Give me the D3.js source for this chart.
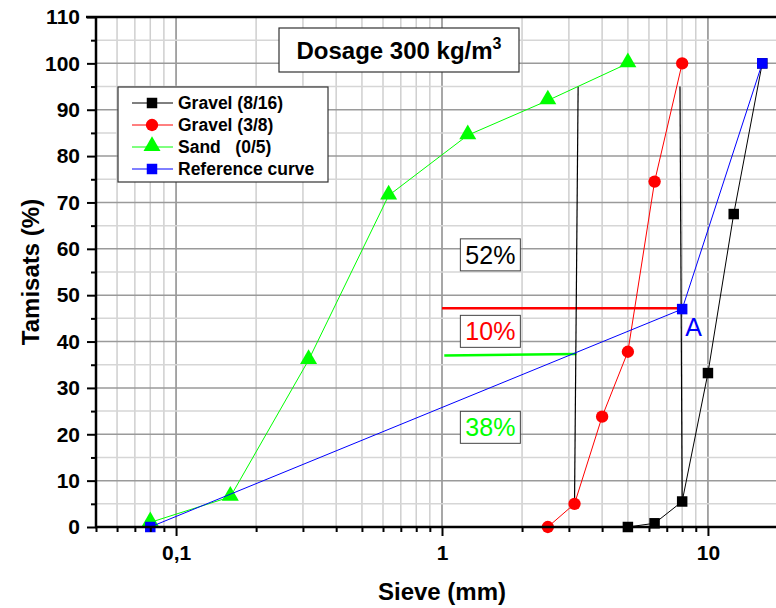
<!DOCTYPE html>
<html lang="en">
<head>
    <meta charset="UTF-8">
    <title>Dosage 300 kg/m3</title>
    <script src="https://d3js.org/d3.v7.min.js"></script>
    <style>
        body { margin: 0; background: #fff; }
        svg text { font-family: "Liberation Sans", Arial, sans-serif; }
    </style>
</head>
<body>
    <div id="chart"></div>

    <script>
        // sieve sizes (mm) and passing (%)
        const gravel816X = [5, 6.3, 8, 10, 12.5, 16];
        const gravel816Y = [0, 0.8, 5.5, 33.2, 67.5, 100];
        const gravel38X = [2.5, 3.15, 4, 5, 6.3, 8];
        const gravel38Y = [0, 5, 23.8, 37.8, 74.5, 100];
        const sandX = [0.08, 0.16, 0.315, 0.63, 1.25, 2.5, 5];
        const sandY = [1, 6.5, 36, 71.5, 84.5, 92, 100];
        const refX = [0.08, 8, 16];
        const refY = [0, 47, 100];

        const seriesNames = ["Gravel (8/16)", "Gravel (3/8)", "Sand   (0/5)", "Reference curve"];
        const seriesColors = ["#000000", "#ff0000", "#00ff00", "#0000ff"];
        const seriesSymbols = ["square", "circle", "triangle", "square"];

        const yTicks = [0, 10, 20, 30, 40, 50, 60, 70, 80, 90, 100, 110];
        const xTicks = [0.1, 1, 10];
        const xTickLabels = ["0,1", "1", "10"];

        // separation lines and the percentage labels
        const sep1 = [[3.25, 95], [3.15, 5]];
        const sep2 = [[7.85, 95], [8, 5.5]];
        const redLevel = [[1, 47.2], [8, 47.2]];
        const greenLevel = [[1.02, 37], [3.2, 37.3]];
        const pctLabels = [
            { text: "52%", x: 1.52, y: 58.7, color: "#000000" },
            { text: "10%", x: 1.52, y: 42.2, color: "#ff0000" },
            { text: "38%", x: 1.52, y: 21.5, color: "#00ff00" }
        ];

        const width = 776, height = 608;
        const svg = d3.select("#chart").append("svg")
            .attr("width", width)
            .attr("height", height);

        const x = d3.scaleLog().domain([0.05, 20]).range([96, 788]);
        const y = d3.scaleLinear().domain([0, 110]).range([527, 17]);

        // grid
        const minorX = [];
        [0.01, 0.1, 1, 10].forEach(dec => {
            for (let k = 1; k <= 9; k++) {
                const v = +(dec * k).toPrecision(3);
                if (v >= 0.05 && v <= 20) minorX.push(v);
            }
        });
        minorX.push(20);
        const gridY = d3.range(0, 111, 5);

        const grid = svg.append("g");
        grid.selectAll(".gx").data(minorX).enter().append("line")
            .attr("x1", d => x(d)).attr("x2", d => x(d))
            .attr("y1", y(0)).attr("y2", y(110))
            .attr("stroke", d => xTicks.includes(d) ? "#8a8a8a" : "#cfcfcf")
            .attr("stroke-width", 1.5);
        grid.selectAll(".gy").data(gridY).enter().append("line")
            .attr("x1", x(0.05)).attr("x2", width)
            .attr("y1", d => y(d)).attr("y2", d => y(d))
            .attr("stroke", d => d % 10 === 0 ? "#9a9a9a" : "#d6d6d6")
            .attr("stroke-width", 1.5);

        const line = d3.line().x(d => x(d[0])).y(d => y(d[1]));

        // annotation lines
        svg.append("path").attr("d", line(redLevel))
            .attr("fill", "none").attr("stroke", "#ff0000").attr("stroke-width", 2.5);
        svg.append("path").attr("d", line(greenLevel))
            .attr("fill", "none").attr("stroke", "#00ff00").attr("stroke-width", 2.5);
        [sep1, sep2].forEach(s => {
            svg.append("path").attr("d", line(s))
                .attr("fill", "none").attr("stroke", "#000").attr("stroke-width", 1.2);
        });

        // percentage boxes
        const pg = svg.append("g").selectAll("g").data(pctLabels).enter().append("g")
            .attr("transform", d => `translate(${x(d.x)},${y(d.y)})`);
        pg.append("rect")
            .attr("x", -30).attr("y", -16).attr("width", 60).attr("height", 32)
            .attr("fill", "#fff").attr("stroke", "#444").attr("stroke-width", 1);
        pg.append("text")
            .attr("text-anchor", "middle").attr("y", 9)
            .attr("font-size", "25px")
            .attr("fill", d => d.color)
            .text(d => d.text);

        // series
        const symbolType = { square: d3.symbolSquare, circle: d3.symbolCircle, triangle: d3.symbolTriangle };
        const symbolSize = { square: 110, circle: 120, triangle: 125 };
        const series = [
            d3.zip(gravel816X, gravel816Y),
            d3.zip(gravel38X, gravel38Y),
            d3.zip(sandX, sandY),
            d3.zip(refX, refY)
        ];

        series.forEach((pts, i) => {
            const g = svg.append("g");
            g.append("path").attr("d", line(pts))
                .attr("fill", "none").attr("stroke", seriesColors[i]).attr("stroke-width", 1);
            g.selectAll("path.pt").data(pts).enter().append("path")
                .attr("class", "pt")
                .attr("d", d3.symbol().type(symbolType[seriesSymbols[i]]).size(symbolSize[seriesSymbols[i]]))
                .attr("transform", d => `translate(${x(d[0])},${y(d[1]) + (seriesSymbols[i] === "triangle" ? -1 : 0)})`)
                .attr("fill", seriesColors[i]);
        });

        // point A
        svg.append("text")
            .attr("x", x(refX[1]) + 3).attr("y", y(refY[1]) + 27)
            .attr("font-size", "25px").attr("fill", "#0000ff")
            .text("A");

        // axes
        svg.append("g")
            .attr("transform", `translate(${x(0.05)},0)`)
            .call(d3.axisLeft(y).tickValues(yTicks).tickSize(9).tickPadding(7));
        svg.append("g")
            .attr("transform", `translate(${x(0.05)},0)`)
            .call(d3.axisLeft(y).tickValues(d3.range(5, 110, 10)).tickSize(5).tickFormat(""));
        svg.append("g")
            .attr("transform", `translate(0,${y(0)})`)
            .call(d3.axisBottom(x).tickValues(xTicks).tickSize(9).tickPadding(9)
                .tickFormat((d, i) => xTickLabels[i]));
        svg.append("g")
            .attr("transform", `translate(0,${y(0)})`)
            .call(d3.axisBottom(x).tickValues(minorX.filter(v => !xTicks.includes(v))).tickSize(5).tickFormat(""));

        svg.selectAll(".domain").remove();
        svg.selectAll(".tick line").attr("stroke", "#000").attr("stroke-width", 2);
        svg.selectAll(".tick text")
            .attr("font-size", "21px").attr("font-weight", "bold").attr("fill", "#000")
            .style("font-family", "'Liberation Sans', Arial, sans-serif");

        // frame lines
        svg.append("line")
            .attr("x1", x(0.05)).attr("x2", x(0.05)).attr("y1", y(110) - 1).attr("y2", y(0) + 1)
            .attr("stroke", "#000").attr("stroke-width", 2.5);
        svg.append("line")
            .attr("x1", x(0.05) - 1).attr("x2", width).attr("y1", y(0)).attr("y2", y(0))
            .attr("stroke", "#000").attr("stroke-width", 2.5);
        svg.append("line")
            .attr("x1", x(0.05) - 10).attr("x2", width).attr("y1", y(110)).attr("y2", y(110))
            .attr("stroke", "#000").attr("stroke-width", 2.5);

        // title box
        const tg = svg.append("g").attr("transform", "translate(399,50)");
        tg.append("rect")
            .attr("x", -120).attr("y", -22).attr("width", 240).attr("height", 44)
            .attr("fill", "#fff").attr("stroke", "#333").attr("stroke-width", 1.2);
        const tt = tg.append("text")
            .attr("text-anchor", "middle").attr("y", 9)
            .attr("font-size", "24px").attr("font-weight", "bold");
        tt.append("tspan").text("Dosage 300 kg/m");
        tt.append("tspan").attr("dy", -10).attr("font-size", "16px").text("3");

        // legend
        const lg = svg.append("g").attr("transform", "translate(118,87)");
        lg.append("rect")
            .attr("width", 210).attr("height", 95)
            .attr("fill", "#fff").attr("stroke", "#333").attr("stroke-width", 1.2);
        const rows = lg.selectAll("g.row").data(seriesNames).enter().append("g")
            .attr("class", "row")
            .attr("transform", (d, i) => `translate(0,${16 + i * 22})`);
        rows.append("line")
            .attr("x1", 14).attr("x2", 55)
            .attr("stroke", (d, i) => seriesColors[i]).attr("stroke-width", 1);
        rows.append("path")
            .attr("d", (d, i) => d3.symbol().type(symbolType[seriesSymbols[i]]).size(symbolSize[seriesSymbols[i]])())
            .attr("transform", (d, i) => `translate(34,${seriesSymbols[i] === "triangle" ? -1 : 0})`)
            .attr("fill", (d, i) => seriesColors[i]);
        rows.append("text")
            .attr("x", 60).attr("dy", "0.36em")
            .attr("font-size", "17.5px").attr("font-weight", "bold")
            .attr("xml:space", "preserve")
            .style("white-space", "pre")
            .text(d => d);

        // axis titles
        svg.append("text")
            .attr("transform", "translate(39,272) rotate(-90)")
            .attr("text-anchor", "middle")
            .attr("font-size", "24px").attr("font-weight", "bold")
            .text("Tamisats (%)");
        svg.append("text")
            .attr("x", 442).attr("y", 600)
            .attr("text-anchor", "middle")
            .attr("font-size", "24px").attr("font-weight", "bold")
            .text("Sieve (mm)");
    </script>
</body>
</html>
